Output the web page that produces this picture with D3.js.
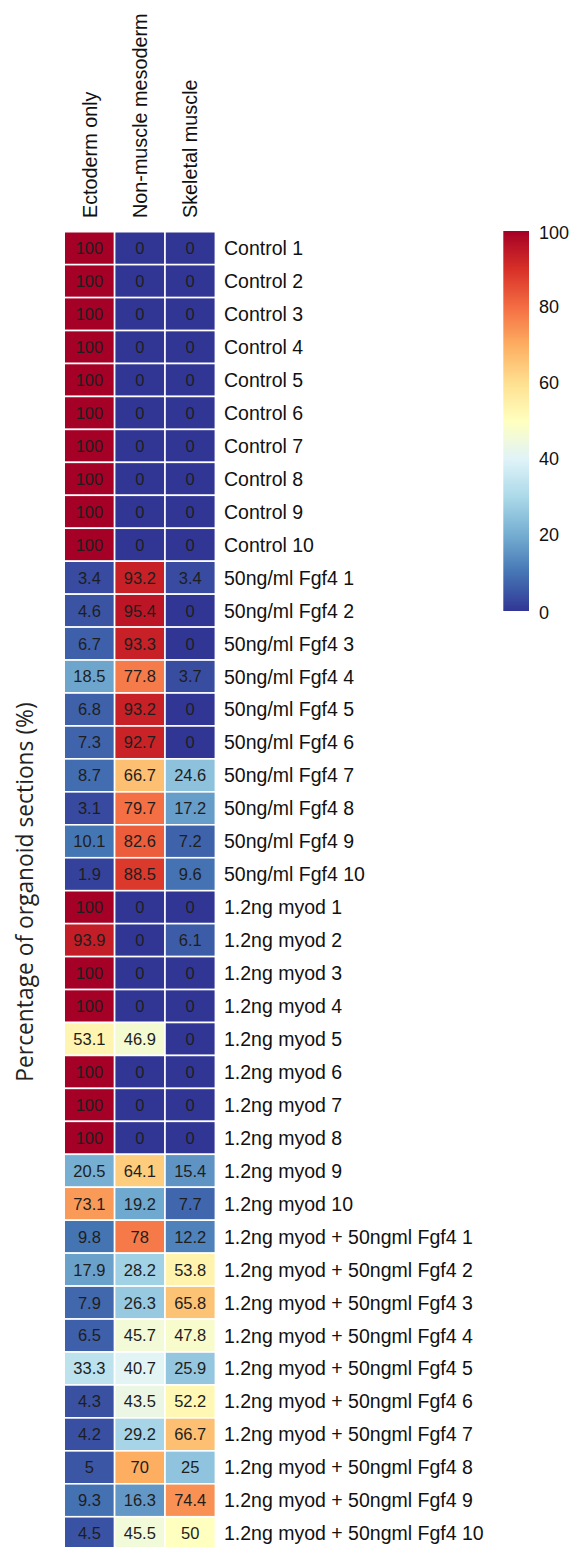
<!DOCTYPE html>
<html>
<head>
<meta charset="utf-8">
<script src="https://cdn.jsdelivr.net/npm/d3@7"></script>
<style>
  html, body { margin: 0; padding: 0; background: #fff; }
  svg { display: block; }
</style>
</head>
<body>
<div id="chart"></div>
<script>
// Tissue composition of organoid sections (% of sections per organoid)
const columns = ["Ectoderm only", "Non-muscle mesoderm", "Skeletal muscle"];

const rowLabels = [
  "Control 1", "Control 2", "Control 3", "Control 4", "Control 5",
  "Control 6", "Control 7", "Control 8", "Control 9", "Control 10",
  "50ng/ml Fgf4 1", "50ng/ml Fgf4 2", "50ng/ml Fgf4 3", "50ng/ml Fgf4 4", "50ng/ml Fgf4 5",
  "50ng/ml Fgf4 6", "50ng/ml Fgf4 7", "50ng/ml Fgf4 8", "50ng/ml Fgf4 9", "50ng/ml Fgf4 10",
  "1.2ng myod 1", "1.2ng myod 2", "1.2ng myod 3", "1.2ng myod 4", "1.2ng myod 5",
  "1.2ng myod 6", "1.2ng myod 7", "1.2ng myod 8", "1.2ng myod 9", "1.2ng myod 10",
  "1.2ng myod + 50ngml Fgf4 1", "1.2ng myod + 50ngml Fgf4 2", "1.2ng myod + 50ngml Fgf4 3",
  "1.2ng myod + 50ngml Fgf4 4", "1.2ng myod + 50ngml Fgf4 5", "1.2ng myod + 50ngml Fgf4 6",
  "1.2ng myod + 50ngml Fgf4 7", "1.2ng myod + 50ngml Fgf4 8", "1.2ng myod + 50ngml Fgf4 9",
  "1.2ng myod + 50ngml Fgf4 10"
];

const ectodermOnly = [
  100, 100, 100, 100, 100, 100, 100, 100, 100, 100,
  3.4, 4.6, 6.7, 18.5, 6.8, 7.3, 8.7, 3.1, 10.1, 1.9,
  100, 93.9, 100, 100, 53.1, 100, 100, 100, 20.5, 73.1,
  9.8, 17.9, 7.9, 6.5, 33.3, 4.3, 4.2, 5, 9.3, 4.5
];
const nonMuscleMesoderm = [
  0, 0, 0, 0, 0, 0, 0, 0, 0, 0,
  93.2, 95.4, 93.3, 77.8, 93.2, 92.7, 66.7, 79.7, 82.6, 88.5,
  0, 0, 0, 0, 46.9, 0, 0, 0, 64.1, 19.2,
  78, 28.2, 26.3, 45.7, 40.7, 43.5, 29.2, 70, 16.3, 45.5
];
const skeletalMuscle = [
  0, 0, 0, 0, 0, 0, 0, 0, 0, 0,
  3.4, 0, 0, 3.7, 0, 0, 24.6, 17.2, 7.2, 9.6,
  0, 6.1, 0, 0, 0, 0, 0, 0, 15.4, 7.7,
  12.2, 53.8, 65.8, 47.8, 25.9, 52.2, 66.7, 25, 74.4, 50
];

const legendTicks = [0, 20, 40, 60, 80, 100];
const yTitle = "Percentage of organoid sections (%)";

// RdYlBu, 11 classes, low values blue -> high values red
const palette = ["#313695", "#4575b4", "#74add1", "#abd9e9", "#e0f3f8", "#ffffbf",
                 "#fee090", "#fdae61", "#f46d43", "#d73027", "#a50026"];

const seriesByColumn = [ectodermOnly, nonMuscleMesoderm, skeletalMuscle];

const W = 574, H = 1547;
const svg = d3.select("#chart").append("svg")
  .attr("width", W).attr("height", H)
  .attr("font-family", "'Liberation Sans', Arial, sans-serif");

const x = d3.scaleBand().domain(columns).range([64.2, 215.4]).padding(0);
const y = d3.scaleBand().domain(rowLabels).range([231.7, 231.7 + 32.95 * rowLabels.length]).padding(0);

const color = d3.scaleLinear()
  .domain(d3.range(palette.length).map(i => i * 100 / (palette.length - 1)))
  .range(palette)
  .interpolate(d3.interpolateRgb)
  .clamp(true);

const cells = [];
rowLabels.forEach((r, i) => {
  columns.forEach((c, j) => {
    cells.push({ row: r, col: c, value: seriesByColumn[j][i] });
  });
});

const fmt = v => String(v);

const g = svg.append("g");
g.selectAll("rect.cell")
  .data(cells)
  .join("rect")
  .attr("class", "cell")
  .attr("x", d => x(d.col))
  .attr("y", d => y(d.row))
  .attr("width", x.bandwidth())
  .attr("height", y.bandwidth())
  .attr("fill", d => color(d.value))
  .attr("stroke", "#ffffff")
  .attr("stroke-width", 1.6);

g.selectAll("text.val")
  .data(cells)
  .join("text")
  .attr("class", "val")
  .attr("x", d => x(d.col) + x.bandwidth() / 2)
  .attr("y", d => y(d.row) + y.bandwidth() / 2)
  .attr("dy", "0.36em")
  .attr("text-anchor", "middle")
  .attr("font-size", 16.5)
  .attr("fill", "#1e1e1e")
  .text(d => fmt(d.value));

// row labels
svg.append("g")
  .selectAll("text")
  .data(rowLabels)
  .join("text")
  .attr("x", 224)
  .attr("y", d => y(d) + y.bandwidth() / 2)
  .attr("dy", "0.36em")
  .attr("font-size", 19.5)
  .attr("fill", "#111")
  .text(d => d);

// column labels, rotated
svg.append("g")
  .selectAll("text")
  .data(columns)
  .join("text")
  .attr("transform", d => `translate(${x(d) + x.bandwidth() / 2},218) rotate(-90)`)
  .attr("dy", "0.36em")
  .attr("font-size", 19.8)
  .attr("fill", "#111")
  .text(d => d);

// y title
svg.append("text")
  .attr("transform", "translate(32.5,892) rotate(-90)")
  .attr("text-anchor", "middle")
  .attr("font-family", "'Open Sans', sans-serif")
  .attr("font-size", 22.8)
  .attr("fill", "#222")
  .text(yTitle);

// colour legend
const legendScale = d3.scaleLinear().domain([0, 100]).range([611, 231]);
const defs = svg.append("defs");
const grad = defs.append("linearGradient")
  .attr("id", "legendGrad")
  .attr("x1", 0).attr("y1", 1).attr("x2", 0).attr("y2", 0);
grad.selectAll("stop")
  .data(d3.range(0, 101, 2))
  .join("stop")
  .attr("offset", d => d / 100)
  .attr("stop-color", d => color(d));

svg.append("rect")
  .attr("x", 503.3)
  .attr("y", legendScale(100))
  .attr("width", 25.7)
  .attr("height", legendScale(0) - legendScale(100))
  .attr("fill", "url(#legendGrad)");

svg.append("g")
  .selectAll("text")
  .data(legendTicks)
  .join("text")
  .attr("x", 539)
  .attr("y", d => legendScale(d) + (d === 100 ? 1.5 : 0) + (d === 0 ? 2 : 0))
  .attr("dy", "0.36em")
  .attr("font-size", 18)
  .attr("fill", "#111")
  .text(d => d);
</script>
</body>
</html>
